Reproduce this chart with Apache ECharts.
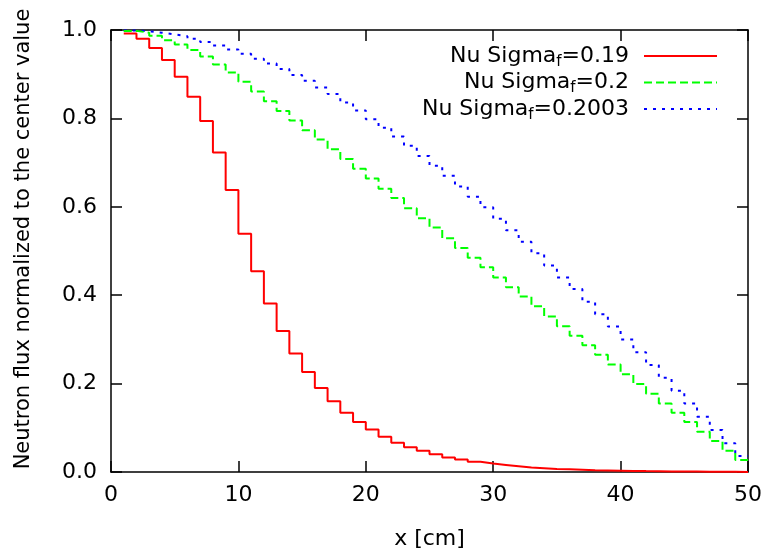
<!DOCTYPE html>
<html>
<head>
<meta charset="utf-8">
<script src="https://cdn.jsdelivr.net/npm/echarts@6/dist/echarts.min.js"></script>
<style>
html,body{margin:0;padding:0;background:#fff;}
#chart{width:768px;height:553px;}
</style>
</head>
<body>
<div id="chart"></div>
<script>
// x positions (cm): segment start points of the step curves
var xValues = [1,2,3,4,5,6,7,8,9,10,11,12,13,14,15,16,17,18,19,20,21,22,23,24,25,26,27,28,29,30,31,32,33,34,35,36,37,38,39,40,41,42,43,44,45,46,47,48,49,50];

var seriesNames = ['Nu Sigma_f=0.19', 'Nu Sigma_f=0.2', 'Nu Sigma_f=0.2003'];

var flux019 = [0.992,0.980,0.959,0.932,0.894,0.849,0.794,0.723,0.638,0.539,
  0.454,0.381,0.319,0.268,0.226,0.190,0.160,0.134,0.113,0.096,
  0.080,0.066,0.056,0.048,0.040,0.033,0.028,0.023,0.019,0.016,
  0.013,0.010,0.0085,0.007,0.006,0.005,0.004,0.0035,0.003,0.0025,
  0.002,0.0017,0.0014,0.0012,0.001,0.0008,0.0006,0.0004,0.0002,0.0002];

var flux020 = [0.998,0.994,0.987,0.977,0.967,0.955,0.940,0.922,0.904,0.883,
  0.861,0.839,0.817,0.795,0.773,0.752,0.730,0.708,0.686,0.664,
  0.641,0.620,0.597,0.574,0.553,0.529,0.507,0.485,0.463,0.440,
  0.418,0.397,0.375,0.352,0.330,0.308,0.287,0.265,0.243,0.221,
  0.199,0.177,0.155,0.134,0.113,0.091,0.070,0.048,0.027,0.027];

var flux02003 = [0.999,0.997,0.994,0.990,0.986,0.980,0.973,0.965,0.956,0.946,
  0.935,0.924,0.912,0.898,0.885,0.870,0.855,0.836,0.818,0.798,
  0.779,0.759,0.738,0.715,0.693,0.670,0.646,0.623,0.599,0.573,
  0.547,0.521,0.495,0.467,0.440,0.414,0.385,0.357,0.329,0.300,
  0.271,0.242,0.213,0.184,0.155,0.125,0.095,0.065,0.036,0.036];

var xTicks = [0,10,20,30,40,50];
var yTicks = ['0.0','0.2','0.4','0.6','0.8','1.0'];

var FONT = 'DejaVu Sans, Liberation Sans, Arial, sans-serif';
var FS = 22;

function pairs(ys){ return xValues.map(function(x,i){ return [x, ys[i]]; }); }

var colors = ['#ff0000','#00ff00','#0000ff'];
var lineTypes = ['solid',[8,4],[3,6]];
var dataSets = [flux019, flux020, flux02003];

var richSub = {
  a: {fontSize: FS, fontFamily: FONT, color: '#000'},
  s: {fontSize: 15, fontFamily: FONT, color: '#000', padding: [12,0,0,0]}
};

function fmtName(name){
  var parts = name.split('_f');
  return '{a|' + parts[0] + '}{s|f}{a|' + parts[1] + '}';
}

var series = dataSets.map(function(d, i){
  return {
    name: seriesNames[i],
    type: 'line',
    step: 'end',
    data: pairs(d),
    showSymbol: false,
    symbol: 'none',
    lineStyle: {color: colors[i], width: 2, type: lineTypes[i]},
    itemStyle: {color: colors[i]},
    z: 3 - i,
    animation: false
  };
});

var legends = seriesNames.map(function(n, i){
  return {
    data: [n],
    right: 45,
    top: 40 + i * 26.5,
    orient: 'vertical',
    align: 'right',
    itemWidth: 73,
    itemHeight: 14,
    selectedMode: false,
    formatter: fmtName,
    itemStyle: {opacity: 0},
    textStyle: {fontSize: FS, fontFamily: FONT, color: '#000', padding: [0, 10, 0, 0], rich: richSub}
  };
});

var axisLineStyle = {color: '#000', width: 1.5};

var option = {
  backgroundColor: '#fff',
  animation: false,
  textStyle: {fontFamily: FONT},
  legend: legends,
  grid: {left: 111, right: 20, top: 30, bottom: 81, containLabel: false, outerBoundsMode: 'none', show: false},
  xAxis: [{
    type: 'value', min: 0, max: 50, interval: 10, position: 'bottom',
    name: 'x [cm]', nameLocation: 'middle', nameGap: 56,
    nameTextStyle: {fontSize: FS, fontFamily: FONT, color: '#000'},
    axisLine: {show: true, onZero: false, lineStyle: axisLineStyle},
    axisTick: {show: true, inside: true, length: 11, lineStyle: axisLineStyle},
    axisLabel: {fontSize: FS, fontFamily: FONT, color: '#000', margin: 12,
      formatter: function(v){ var k = xTicks.indexOf(v); return k >= 0 ? String(xTicks[k]) : ''; }},
    splitLine: {show: false}
  }, {
    type: 'value', min: 0, max: 50, interval: 10, position: 'top',
    axisLine: {show: true, onZero: false, lineStyle: axisLineStyle},
    axisTick: {show: true, inside: true, length: 11, lineStyle: axisLineStyle},
    axisLabel: {show: false}, splitLine: {show: false}
  }],
  yAxis: [{
    type: 'value', min: 0, max: 1, interval: 0.2, position: 'left',
    name: 'Neutron flux normalized to the center value', nameLocation: 'middle', nameGap: 77,
    nameTextStyle: {fontSize: 21, fontFamily: FONT, color: '#000', padding: [0, 0, 0, 24]},
    axisLine: {show: true, onZero: false, lineStyle: axisLineStyle},
    axisTick: {show: true, inside: true, length: 11, lineStyle: axisLineStyle},
    axisLabel: {fontSize: FS, fontFamily: FONT, color: '#000', margin: 14,
      formatter: function(v){ return yTicks[Math.round(v / 0.2)]; }},
    splitLine: {show: false}
  }, {
    type: 'value', min: 0, max: 1, interval: 0.2, position: 'right',
    axisLine: {show: true, onZero: false, lineStyle: axisLineStyle},
    axisTick: {show: true, inside: true, length: 11, lineStyle: axisLineStyle},
    axisLabel: {show: false}, splitLine: {show: false}
  }],
  series: series
};

var chart = echarts.init(document.getElementById('chart'), null, {renderer: 'canvas'});
chart.setOption(option);
</script>
</body>
</html>
